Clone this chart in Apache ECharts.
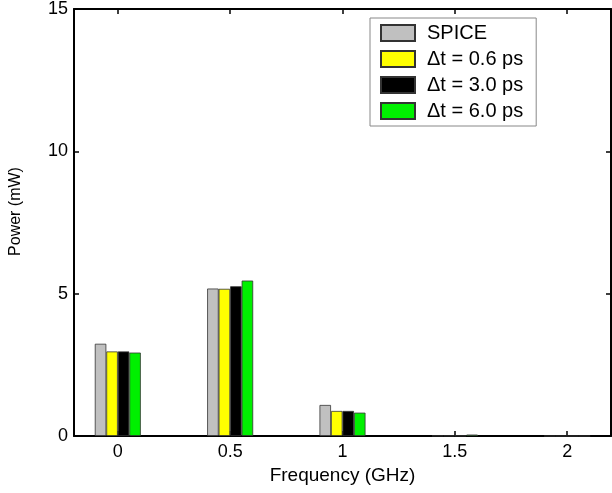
<!DOCTYPE html>
<html>
<head>
<meta charset="utf-8">
<script src="https://cdn.jsdelivr.net/npm/echarts@6/dist/echarts.min.js"></script>
<style>
  html, body { margin: 0; padding: 0; background: #fff; }
  #chart { width: 612px; height: 493px; }
</style>
</head>
<body>
<div id="chart"></div>
<script>
// frequency positions (GHz) and tick labels
const freqs = [0, 0.5, 1, 1.5, 2]
const seriesNames = ['SPICE', '\u0394t = 0.6 ps', '\u0394t = 3.0 ps', '\u0394t = 6.0 ps']
// power (mW) per frequency
const spice = [3.24, 5.18, 1.09, 0.01, 0]
const dt06 = [2.97, 5.17, 0.88, 0.01, 0]
const dt30 = [2.97, 5.26, 0.88, 0.01, 0]
const dt60 = [2.93, 5.46, 0.82, 0.05, 0]
const yTicks = [0, 5, 10, 15]

const colors = ['#c0c0c0', '#ffff00', '#000000', '#00f000']
const font = 'Liberation Sans, Arial, sans-serif'

let chart = echarts.init(document.getElementById('chart'))

let axisLine = { show: true, onZero: false, lineStyle: { color: '#000', width: 2 } }
let tickInside = { show: true, inside: true, length: 5, lineStyle: { color: '#000', width: 1.5 } }

let mkBar = (name, vals, i) => ({
  name: name,
  type: 'bar',
  xAxisIndex: 0,
  yAxisIndex: 0,
  barWidth: 11.5,
  barGap: '0%',
  itemStyle: { color: colors[i], borderColor: '#333', borderWidth: 0.8 },
  data: freqs.map((f, k) => [f, vals[k]])
})

let option = {
  backgroundColor: '#fff',
  animation: false,
  grid: { left: 73, top: 9, right: 1, bottom: 57 },
  legend: {
    orient: 'vertical',
    left: 370,
    top: 18,
    itemWidth: 34,
    itemHeight: 16,
    itemGap: 6,
    padding: [5, 13, 5, 10],
    borderColor: '#888',
    borderWidth: 1,
    icon: 'rect',
    textStyle: { fontFamily: font, fontSize: 20, color: '#000', padding: [0, 0, 0, 7] },
    data: seriesNames
  },
  xAxis: [{
    type: 'value',
    min: -0.195,
    max: 2.195,
    splitLine: { show: false },
    axisLine: axisLine,
    axisTick: Object.assign({ customValues: freqs }, tickInside),
    axisLabel: { customValues: freqs, fontFamily: font, fontSize: 18, color: '#000', margin: 7 },
    name: 'Frequency (GHz)',
    nameLocation: 'middle',
    nameGap: 26,
    nameTextStyle: { fontFamily: font, fontSize: 19, color: '#000' }
  }, {
    type: 'value',
    position: 'top',
    min: -0.195,
    max: 2.195,
    splitLine: { show: false },
    axisLine: axisLine,
    axisTick: Object.assign({ customValues: freqs }, tickInside),
    axisLabel: { show: false }
  }],
  yAxis: [{
    type: 'value',
    min: 0,
    max: 15,
    interval: 5,
    splitLine: { show: false },
    axisLine: axisLine,
    axisTick: tickInside,
    axisLabel: { fontFamily: font, fontSize: 18, color: '#000', margin: 6 },
    name: 'Power (mW)',
    nameLocation: 'middle',
    nameGap: 50,
    nameTextStyle: { fontFamily: font, fontSize: 16, color: '#000', padding: [0, 0, 0, 22] }
  }, {
    type: 'value',
    position: 'right',
    min: 0,
    max: 15,
    interval: 5,
    splitLine: { show: false },
    axisLine: axisLine,
    axisTick: tickInside,
    axisLabel: { show: false }
  }],
  series: [
    mkBar(seriesNames[0], spice, 0),
    mkBar(seriesNames[1], dt06, 1),
    mkBar(seriesNames[2], dt30, 2),
    mkBar(seriesNames[3], dt60, 3)
  ]
}

chart.setOption(option)
</script>
</body>
</html>
